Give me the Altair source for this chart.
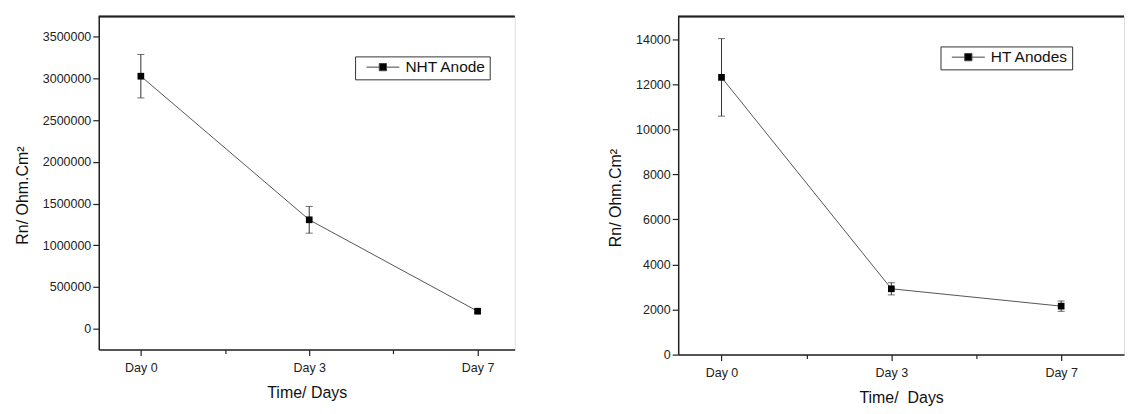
import json
import altair as alt
import pandas as pd

# ---- data ----
days = ["Day 0", "Day 3", "Day 7"]
day_index = [0, 1, 2]

nht_series = "NHT Anode"
nht_values = [3025000, 1305000, 210000]
nht_errors = [260000, 160000, 20000]

ht_series = "HT Anodes"
ht_values = [12300, 2920, 2150]
ht_errors = [1720, 270, 230]

FONT = "Liberation Sans"
AXIS_COLOR = "#222222"
# legend glyph: line - filled square - line (unit path, offset to the right)
LEG_PATH = "M0.1,0H2.05M3.15,0H5.1M2.05,-0.55H3.15V0.55H2.05Z"


def panel(values, errors, series, ydomain, ytick_vals, ymajor, width, height,
          xdomain, legx, legy, xtitle):
    df = pd.DataFrame({
        "idx": day_index,
        "day": days,
        "v": values,
        "lo": [v - e for v, e in zip(values, errors)],
        "hi": [v + e for v, e in zip(values, errors)],
        "series": [series] * len(values),
    })
    label_expr = "datum.value % 1 === 0 ? " + json.dumps(days) + "[datum.value] : ''"
    x_axis = alt.Axis(
        values=[0, 0.5, 1, 1.5, 2],
        labelExpr=label_expr,
        tickSize={"condition": {"test": "datum.value % 1 === 0", "value": 6}, "value": 4},
        title=xtitle,
        labelPadding=6,
        titlePadding=11,
        labelFontSize=12.5,
        titleFontSize=16,
        titleFontWeight="normal",
        labelColor="#222",
        titleColor="#111",
        domainColor=AXIS_COLOR,
        domainWidth=1.5,
        tickColor=AXIS_COLOR,
        tickWidth=1.2,
        grid=False,
        labelFont=FONT,
        titleFont=FONT,
    )
    y_axis = alt.Axis(
        values=ytick_vals,
        labelExpr=f"datum.value % {ymajor} === 0 ? format(datum.value, 'd') : ''",
        tickSize={"condition": {"test": f"datum.value % {ymajor} === 0", "value": 6}, "value": 4},
        title="Rn/ Ohm.Cm²",
        titleY=height / 2 + 12,
        labelPadding=2,
        titlePadding=12,
        labelFontSize=12.5,
        titleFontSize=16,
        titleFontWeight="normal",
        labelColor="#222",
        titleColor="#111",
        domainColor=AXIS_COLOR,
        domainWidth=1.5,
        tickColor=AXIS_COLOR,
        tickWidth=1.2,
        grid=False,
        labelFont=FONT,
        titleFont=FONT,
    )
    x = alt.X("idx:Q", scale=alt.Scale(domain=xdomain, nice=False, zero=False), axis=x_axis)
    y = alt.Y("v:Q", scale=alt.Scale(domain=ydomain, nice=False, zero=False), axis=y_axis)

    base = alt.Chart(df)
    line = base.mark_line(color="#555555", strokeWidth=1).encode(x=x, y=y)
    err = base.mark_rule(color="#333333", strokeWidth=1).encode(
        x="idx:Q", y="lo:Q", y2="hi:Q")
    cap_lo = base.mark_tick(color="#333333", orient="horizontal", size=7, thickness=1).encode(
        x="idx:Q", y="lo:Q")
    cap_hi = base.mark_tick(color="#333333", orient="horizontal", size=7, thickness=1).encode(
        x="idx:Q", y="hi:Q")
    pts = base.mark_point(shape="square", filled=True, size=45, opacity=1).encode(
        x="idx:Q", y="v:Q",
        color=alt.Color("series:N", scale=alt.Scale(range=["black"]),
                        legend=alt.Legend(
                            title=None, orient="none", legendX=legx, legendY=legy,
                            strokeColor="#333333", fillColor="white", padding=3,
                            cornerRadius=0,
                            symbolType=LEG_PATH, symbolSize=174,
                            symbolStrokeColor="#444444", symbolStrokeWidth=1,
                            symbolFillColor="black",
                            labelFont=FONT, labelFontSize=15.5, labelColor="#111",
                            labelOffset=32,
                        )),
    )
    frame_top = base.mark_rule(color=AXIS_COLOR, strokeWidth=1.5).encode(
        x=alt.value(0), x2=alt.value(width), y=alt.value(0))
    return alt.layer(line, err, cap_lo, cap_hi, pts, frame_top).properties(
        width=width, height=height)


left = panel(nht_values, nht_errors, nht_series,
             [-250000, 3740000], list(range(0, 3500001, 250000)), 500000,
             417, 334, [-0.25, 2.22], 257, 40, "Time/ Days")
right = panel(ht_values, ht_errors, ht_series,
              [0, 15000], list(range(0, 14001, 1000)), 2000,
              447, 339, [-0.255, 2.37], 263, 30, "Time/\u00a0 Days")

chart = alt.hconcat(left, right, spacing=90).resolve_scale(
    color="independent", x="independent", y="independent"
).properties(
    padding={"left": 5, "top": 6, "right": 0, "bottom": 0},
    background="white",
).configure_view(stroke=None).configure(font=FONT)

chart.save("out.html", embed_options={"renderer": "svg", "actions": False})
